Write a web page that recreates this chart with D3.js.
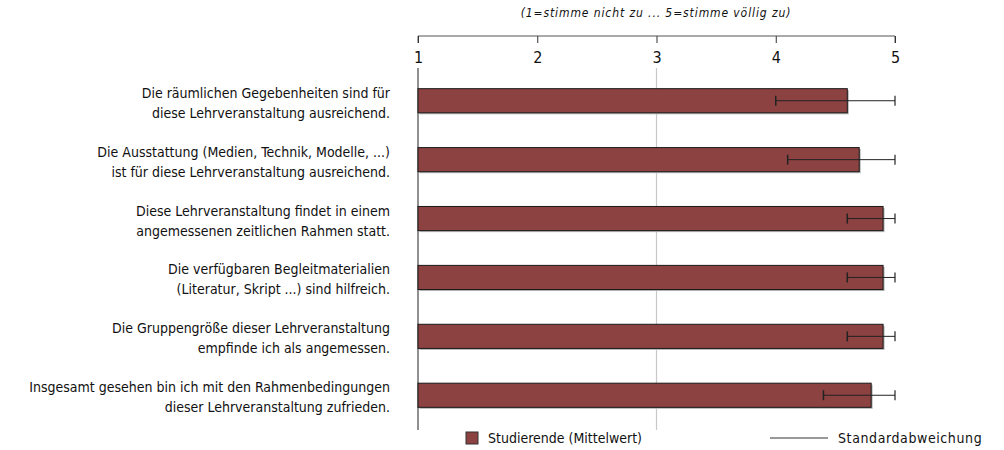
<!DOCTYPE html>
<html>
<head>
<meta charset="utf-8">
<script src="https://cdn.jsdelivr.net/npm/d3@7"></script>
<style>
  body { margin: 0; background: #fff; }
  svg text { font-family: "DejaVu Sans Condensed", "DejaVu Sans", sans-serif; font-stretch: condensed; fill: #111; }
</style>
</head>
<body>
<div id="chart"></div>
<script>
var questions = [
  ["Die räumlichen Gegebenheiten sind für", "diese Lehrveranstaltung ausreichend."],
  ["Die Ausstattung (Medien, Technik, Modelle, ...)", "ist für diese Lehrveranstaltung ausreichend."],
  ["Diese Lehrveranstaltung findet in einem", "angemessenen zeitlichen Rahmen statt."],
  ["Die verfügbaren Begleitmaterialien", "(Literatur, Skript ...) sind hilfreich."],
  ["Die Gruppengröße dieser Lehrveranstaltung", "empfinde ich als angemessen."],
  ["Insgesamt gesehen bin ich mit den Rahmenbedingungen", "dieser Lehrveranstaltung zufrieden."]
];
var means = [4.6, 4.7, 4.9, 4.9, 4.9, 4.8];
var stdDevs = [0.6, 0.6, 0.3, 0.3, 0.3, 0.4];
var ticks = [1, 2, 3, 4, 5];
var subtitle = "(1=stimme nicht zu ... 5=stimme völlig zu)";
var legendLabels = ["Studierende (Mittelwert)", "Standardabweichung"];

var W = 1004, H = 450;
var plotLeft = 418, plotRight = 895, plotTop = 71, plotBottom = 425;

var svg = d3.select("#chart").append("svg")
  .attr("width", W)
  .attr("height", H);

var x = d3.scaleLinear().domain([1, 5]).range([plotLeft, plotRight]);
var y = d3.scaleBand()
  .domain(d3.range(questions.length))
  .range([plotTop, plotBottom])
  .paddingInner(0.59)
  .paddingOuter(0.3);

// subtitle
svg.append("text")
  .attr("x", 656).attr("y", 17)
  .attr("text-anchor", "middle")
  .style("font-size", "12px")
  .style("letter-spacing", "0.9px")
  .style("font-style", "italic")
  .text(subtitle);

// top axis
var axis = svg.append("g")
  .attr("transform", "translate(0,36)")
  .call(d3.axisBottom(x).tickValues(ticks).tickSize(7).tickPadding(9).tickFormat(d3.format("d")));
axis.select(".domain").attr("stroke", "#555").attr("d", "M" + plotLeft + ",7V0H" + plotRight + "V7");
axis.selectAll(".tick line").attr("stroke", "#333");
axis.selectAll(".tick text").style("font-size", "16px").attr("fill", "#111");

// gridline at 3
svg.append("line")
  .attr("x1", x(3)).attr("x2", x(3))
  .attr("y1", 68).attr("y2", 430)
  .attr("stroke", "#c8c8c8").attr("stroke-width", 1.2);

// left axis line
svg.append("line")
  .attr("x1", plotLeft).attr("x2", plotLeft)
  .attr("y1", 68).attr("y2", 430)
  .attr("stroke", "#222").attr("stroke-width", 1);

// bars
var rows = svg.selectAll(".row").data(means).enter().append("g").attr("class", "row");

rows.append("rect")
  .attr("x", x(1) + 1.5)
  .attr("y", function(d, i) { return y(i) + 1.5; })
  .attr("width", function(d) { return x(d) - x(1); })
  .attr("height", y.bandwidth())
  .attr("fill", "#b5b5b5");

rows.append("rect")
  .attr("x", x(1))
  .attr("y", function(d, i) { return y(i); })
  .attr("width", function(d) { return x(d) - x(1); })
  .attr("height", y.bandwidth())
  .attr("fill", "#8b4240")
  .attr("stroke", "#1a1a1a")
  .attr("stroke-width", 1);

// error bars (clipped at 5)
rows.each(function(d, i) {
  var g = d3.select(this);
  var cy = y(i) + y.bandwidth() / 2;
  var lo = Math.max(1, d - stdDevs[i]);
  var hi = Math.min(5, d + stdDevs[i]);
  g.append("line")
    .attr("x1", x(lo)).attr("x2", x(hi))
    .attr("y1", cy).attr("y2", cy)
    .attr("stroke", "#222").attr("stroke-width", 1);
  g.append("line")
    .attr("x1", x(lo)).attr("x2", x(lo))
    .attr("y1", cy - 5).attr("y2", cy + 5)
    .attr("stroke", "#222").attr("stroke-width", 1.5);
  g.append("line")
    .attr("x1", x(hi)).attr("x2", x(hi))
    .attr("y1", cy - 5).attr("y2", cy + 5)
    .attr("stroke", "#222").attr("stroke-width", 1.2);
});

// category labels
svg.selectAll(".qlabel").data(questions).enter().append("text")
  .attr("class", "qlabel")
  .attr("text-anchor", "end")
  .style("font-size", "14px")
  .attr("transform", function(d, i) { return "translate(390," + (y(i) + y.bandwidth() / 2) + ")"; })
  .each(function(d) {
    var t = d3.select(this);
    t.append("tspan").attr("x", 0).attr("y", -3).text(d[0]);
    t.append("tspan").attr("x", 0).attr("y", 17).text(d[1]);
  });

// legend
svg.append("rect")
  .attr("x", 466).attr("y", 432).attr("width", 12).attr("height", 12)
  .attr("fill", "#8b4240").attr("stroke", "#333");
svg.append("text")
  .attr("x", 488).attr("y", 443)
  .style("font-size", "14px")
  .text(legendLabels[0]);
svg.append("line")
  .attr("x1", 770).attr("x2", 828).attr("y1", 438).attr("y2", 438)
  .attr("stroke", "#333");
svg.append("text")
  .attr("x", 838).attr("y", 443)
  .style("font-size", "14px")
  .style("letter-spacing", "0.6px")
  .text(legendLabels[1]);
</script>
</body>
</html>
